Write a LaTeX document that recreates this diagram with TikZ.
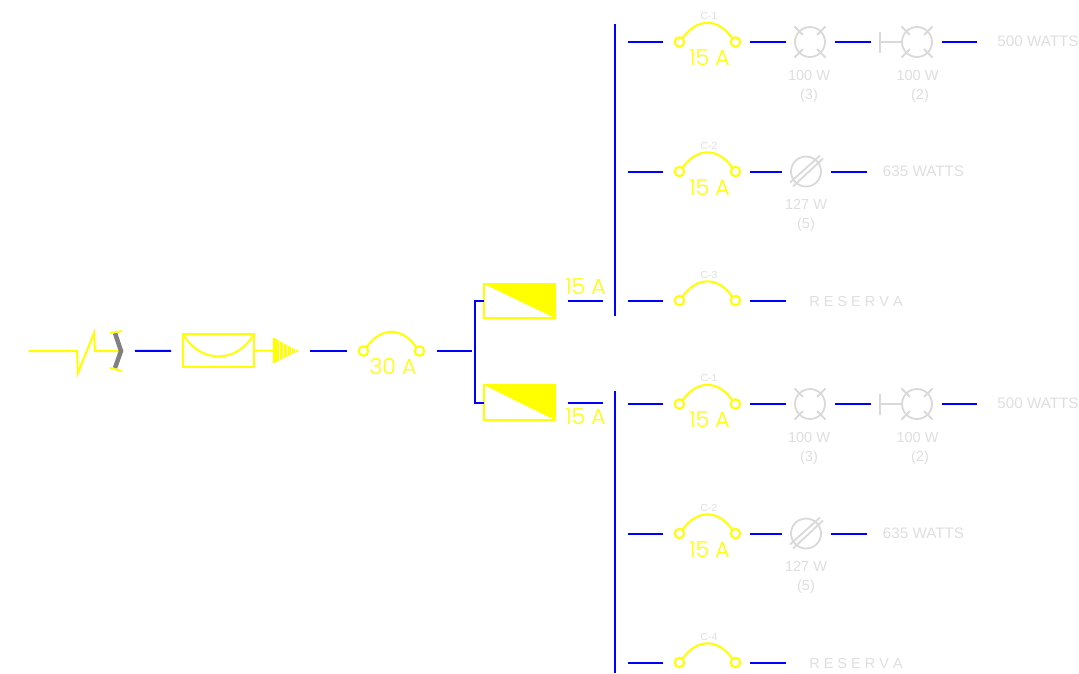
\documentclass[tikz,border=0pt]{standalone}
\usepackage{fontspec}
\usetikzlibrary{calc}
\setmainfont{Liberation Sans}
\newfontfamily\amps{Poppins Light}
\definecolor{wireblue}{RGB}{0,0,255}
\definecolor{fuseyel}{RGB}{255,255,0}
\definecolor{lampgray}{RGB}{217,217,217}
\definecolor{textgray}{RGB}{222,222,222}
\tikzset{
  wire/.style={wireblue,line width=2pt},
  yel/.style={fuseyel,line width=2pt},
  lampline/.style={lampgray,line width=1.8pt},
  pin/.style={circle,draw=fuseyel,line width=2pt,minimum size=9.5pt,inner sep=0pt,outer sep=0pt},
  lamp/.style={circle,draw=lampgray,line width=1.8pt,minimum size=30pt,inner sep=0pt,outer sep=0pt},
  box/.style={rectangle,draw=fuseyel,line width=2pt,minimum width=71pt,inner sep=0pt,outer sep=0pt},
  amp/.style={text=fuseyel,font=\amps\fontsize{22}{22}\selectfont,inner sep=0pt},
  txt/.style={text=textgray,font=\fontsize{14.5}{15}\selectfont,inner sep=0pt},
  tot/.style={text=textgray,font=\fontsize{15.2}{16}\selectfont,inner sep=0pt},
  cir/.style={text=textgray,font=\fontsize{10.3}{11}\selectfont,inner sep=0pt},
}
\begin{document}
\begin{tikzpicture}[x=1pt,y=-1pt]
\useasboundingbox(0,0)rectangle(1079,673);
% incoming line and break mark
\draw[yel](29,351)--(77,351)--(78,373)--(94,333)--(95,351)--(123,351);
\draw[gray,line width=4.5pt](115,333)--(121,351)--(115,368);
\draw[yel](110,333)--(122,331);
\draw[yel](110,368)--(122,371);
\coordinate(brk)at(122,351);
% meter and cone
\node[box,minimum height=33pt](meter)at(218.5,350.5){};
\draw[yel](meter.north west)to[out=-60,in=-120,looseness=1.25](meter.north east);
\coordinate(cone)at(298,351);
\draw[yel](meter.east)--(cone);
\fill[fuseyel](274,338)--(298,351)--(274,363)--cycle;
\foreach\x in{279.5,283.5,...,295.5}\draw[white,line width=1.3pt](\x,336)--(\x,366);
\draw[yel](274,338)--(274,363);
\draw[wire,shorten <=13pt,shorten >=12pt](brk)--(meter);
% main fuse
\node[pin](pa0)at(363.5,351){};
\node[pin](pb0)at(419.5,351){};
\node[amp](amp0)at(393,367){30 A};
\draw[yel](pa0.50)to[out=55,in=125,looseness=1.3](pb0.130);
\draw[wire,shorten <=12pt,shorten >=12pt](cone)--(pa0);
\coordinate(junc)at(475,351);
\draw[wire,shorten <=12.5pt,shorten >=3pt](pb0)--(junc);
% breakers
\node[box,minimum height=34pt](brkA)at(519.5,301){};
\node[box,minimum height=35pt](brkB)at(519.5,402.5){};
\foreach\b in{brkA,brkB}\fill[fuseyel](\b.north west)--(\b.north east)--(\b.south east)--cycle;
\draw[wire](brkA.west)--++(-9,0)|-(brkB.west);
\node[amp](ampA)at(585.5,287){15 A};
\node[amp](ampB)at(585.5,417){15 A};
\coordinate(outA)at(615.3,301);
\coordinate(outB)at(615.3,402.5);
\draw[wire,shorten <=12.5pt,shorten >=12.5pt](brkA.east)--(outA);
\draw[wire,shorten <=12.5pt,shorten >=12.5pt](brkB.east)--(outB);
% bus bars
\coordinate(topA)at(615.3,24);
\coordinate(botA)at(615.3,316);
\coordinate(topB)at(615.3,391);
\coordinate(botB)at(615.3,673);
\draw[wire](topA)--(botA);
\draw[wire](topB)--(botB);
% circuits
\foreach\n/\y/\c in{a/42/C-1,b/171.5/C-2,c/300.5/C-3,d/404/C-1,e/533.5/C-2,f/662.5/C-4}{
  \coordinate(bus\n)at(615.3,\y);
  \node[pin](pa\n)at(679.5,\y){};
  \node[pin](pb\n)at(735.5,\y){};
  \node[cir](cir\n)at(709,\y-26){\c};
  \draw[yel](pa\n.50)to[out=55,in=125,looseness=1.3](pb\n.130);
  \draw[wire,shorten <=12.5pt,shorten >=11.5pt](bus\n)--(pa\n);
}
\foreach\n/\y in{a/42,b/171.5,d/404,e/533.5}\node[amp](amp\n)at(709.5,\y+16){15 A};
% two lamp rows
\foreach\n/\y in{a/42,d/404}{
  \node[lamp](la\n)at(810,\y){};
  \node[lamp](lb\n)at(917,\y){};
  \coordinate(tick\n)at(880,\y);
  \foreach\p in{la,lb}\foreach\a in{45,135,225,315}\draw[lampline]($(\p\n)+(\a:10)$)--($(\p\n)+(\a:22)$);
  \draw[lampline](880,\y-10)--(880,\y+11);
  \draw[lampline](tick\n)--(lb\n);
  \node[txt](wa\n)at(809,\y+33.5){100 W};
  \node[txt](na\n)at(809,\y+54){(3)};
  \node[txt](wb\n)at(917.5,\y+33.5){100 W};
  \node[txt](nb\n)at(920,\y+54){(2)};
  \node[tot](tot\n)at(1038,\y-0.5){500 WATTS};
  \coordinate(end\n)at(1038,\y);
  \draw[wire,shorten <=10pt,shorten >=9pt](pb\n)--(la\n);
  \draw[wire,shorten <=10pt,shorten >=9pt](la\n)--(tick\n);
  \draw[wire,shorten <=9.5pt,shorten >=61pt](lb\n)--(end\n);
}
% slashed lamp rows
\foreach\n/\y in{b/171.5,e/533.5}{
  \node[lamp](la\n)at(806,\y){};
  \draw[lampline](790,\y+11)--(820,\y-16);
  \draw[lampline](793,\y+15)--(823,\y-13);
  \node[txt](wa\n)at(806,\y+33){127 W};
  \node[txt](na\n)at(806,\y+53.5){(5)};
  \node[tot](tot\n)at(923.5,\y){635 WATTS};
  \draw[wire,shorten <=10pt,shorten >=16pt](la\n)--(tot\n);
  \draw[wire,shorten <=10pt,shorten >=9pt](pb\n)--(la\n);
}
% spare rows
\foreach\n/\y in{c/300.5,f/662.5}{
  \node[txt](res\n)at(856,\y+0.7){R E S E R V A};
  \coordinate(end\n)at(808,\y);
  \draw[wire,shorten <=10pt,shorten >=22pt](pb\n)--(end\n);
}
\end{tikzpicture}
\end{document}
